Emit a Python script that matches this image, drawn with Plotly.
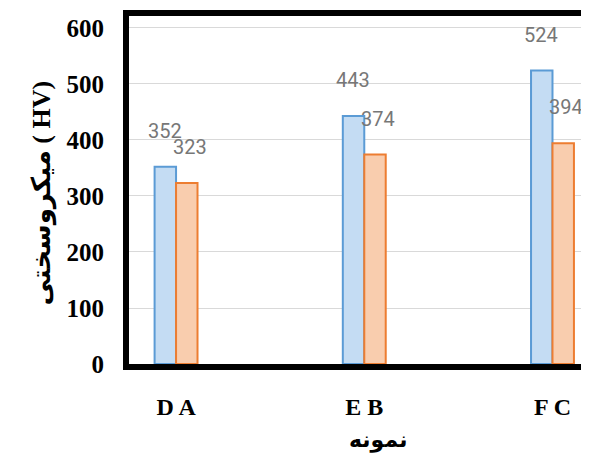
import plotly.graph_objects as go

categories = ["D A", "E B", "F C"]
series_blue = [352, 443, 524]
series_orange = [323, 374, 394]
y_ticks = [0, 100, 200, 300, 400, 500, 600]
x_title = "نمونه"
y_title = "میکروسختی ( HV)"

fig = go.Figure()
fig.add_trace(go.Bar(
    x=categories, y=series_blue, name="blue",
    marker=dict(color="#C4DCF3", line=dict(color="#5B9BD5", width=2)),
))
fig.add_trace(go.Bar(
    x=categories, y=series_orange, name="orange",
    marker=dict(color="#F9CDAE", line=dict(color="#ED7D31", width=2)),
))

label_font = dict(family="Liberation Sans Narrow, Roboto, sans-serif", size=20, color="#777777")
for vals, xs in ((series_blue, -11), (series_orange, 14)):
    for c, v in zip(categories, vals):
        fig.add_annotation(x=c, y=v, text=str(v), showarrow=False,
                           xshift=xs, yshift=22, yanchor="bottom", xanchor="center",
                           font=label_font)

fig.add_annotation(text=x_title, xref="paper", yref="paper", x=0.541, y=0,
                   yshift=-76, showarrow=False, yanchor="middle", xanchor="center",
                   font=dict(family="Liberation Serif, DejaVu Sans", size=22, color="black", weight="bold"))
fig.add_annotation(text=y_title, xref="paper", yref="paper", x=-0.189, y=0.49,
                   textangle=-90, showarrow=False, xanchor="center", yanchor="middle",
                   font=dict(family="Liberation Serif, DejaVu Sans", size=26, color="black", weight="bold"))

# page body adds an 8px margin; figure sized so the plot area lands as in the reference
fig.update_layout(
    width=581, height=454, autosize=False,
    margin=dict(l=121, r=0, t=8, b=98),
    paper_bgcolor="white", plot_bgcolor="white",
    barmode="group", bargap=0.772, bargroupgap=0,
    showlegend=False,
)
fig.update_xaxes(
    type="category", range=[-0.25, 2.194], automargin=False,
    showline=True, linecolor="black", linewidth=6, mirror=True,
    showgrid=False, ticks="", ticklabelstandoff=16,
    tickfont=dict(family="Liberation Serif", size=24, color="black", weight="bold"),
)
fig.update_yaxes(
    range=[0, 621.4], tickvals=y_ticks, automargin=False,
    showline=True, linecolor="black", linewidth=6, mirror=False,
    showgrid=True, gridcolor="#D9D9D9", gridwidth=1, zeroline=False,
    ticks="", ticklabelstandoff=14,
    tickfont=dict(family="Liberation Serif", size=25, color="black", weight="bold"),
)

fig.write_html("out.html")
